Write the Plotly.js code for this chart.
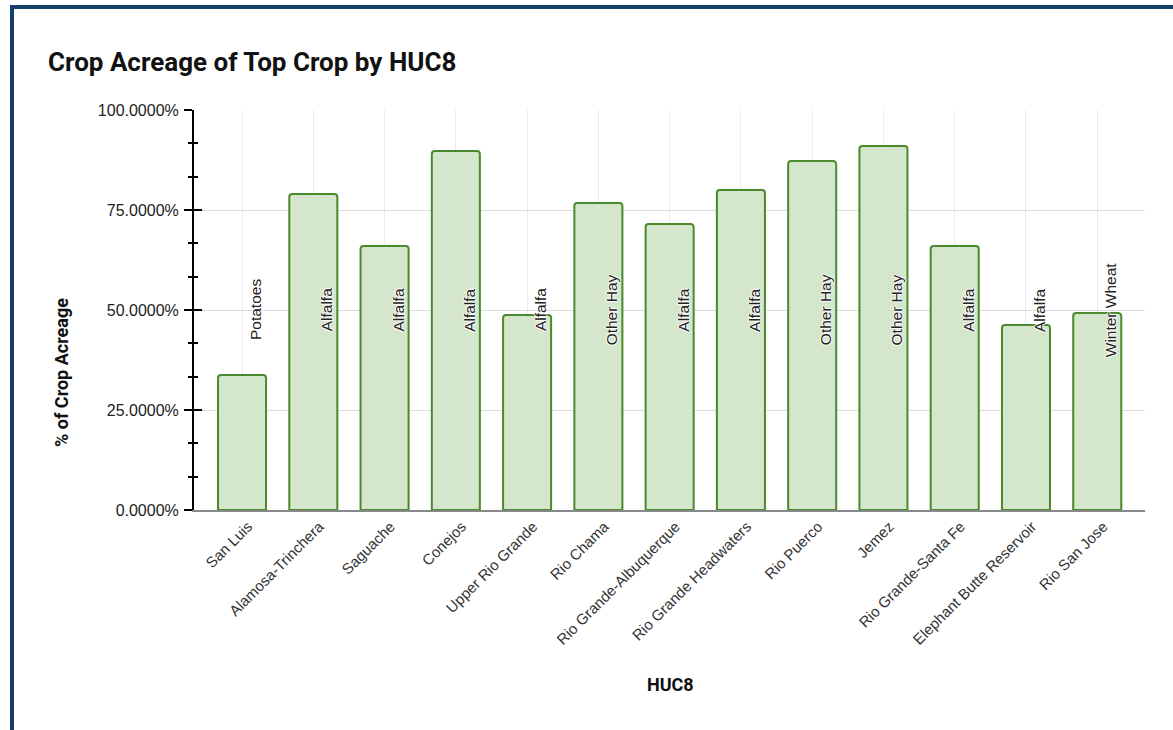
<!DOCTYPE html>
<html>
<head>
<meta charset="utf-8">
<script src="https://cdn.plot.ly/plotly-3.0.1.min.js"></script>
<style>
html,body{margin:0;padding:0;background:#fff;}
#wrap{position:relative;width:1173px;height:730px;overflow:hidden;}
#chart{position:absolute;left:0;top:0;width:1173px;height:730px;}
#frame{position:absolute;left:10px;top:5px;width:1300px;height:900px;border-left:4px solid #13406b;border-top:4px solid #13406b;pointer-events:none;}
</style>
</head>
<body>
<div id="wrap"><div id="chart"></div><div id="frame"></div></div>
<script>
const categories = ["San Luis","Alamosa-Trinchera","Saguache","Conejos","Upper Rio Grande","Rio Chama","Rio Grande-Albuquerque","Rio Grande Headwaters","Rio Puerco","Jemez","Rio Grande-Santa Fe","Elephant Butte Reservoir","Rio San Jose"];
const values = [33.75, 79.0, 66.0, 89.75, 48.75, 76.75, 71.5, 80.0, 87.25, 91.0, 66.0, 46.25, 49.25];
const topCrops = ["Potatoes","Alfalfa","Alfalfa","Alfalfa","Alfalfa","Other Hay","Alfalfa","Alfalfa","Other Hay","Other Hay","Alfalfa","Alfalfa","Winter Wheat"];
const yTicks = [0, 25, 50, 75, 100];
const yTickText = yTicks.map(v => v.toFixed(4) + '%');
const labelY = 50;

const titleFont = "Roboto, 'Noto Sans', Arial, sans-serif";
const bodyFont = "'Liberation Sans', Arial, Helvetica, sans-serif";
const W = 1173, H = 730, L = 194, R = 28, T = 110, B = 220;
const pw = W - L - R, ph = H - T - B;

const trace = {
  type: 'bar',
  x: categories,
  y: values,
  marker: {color: 'rgb(212,230,204)', line: {color: 'rgb(74,137,44)', width: 2}, cornerradius: 3},
  hoverinfo: 'x+y'
};

const halo = '1px 0 1px #fff, -1px 0 1px #fff, 0 1px 1px #fff, 0 -1px 1px #fff';
const annotations = categories.map((c, i) => ({
  x: c, y: labelY, xref: 'x', yref: 'y',
  text: topCrops[i], showarrow: false, textangle: -90,
  xanchor: 'center', yanchor: 'middle',
  xshift: 13, font: {family: bodyFont, size: 15.5, color: '#222', shadow: halo}
}));
annotations.push({
  xref: 'paper', yref: 'paper', x: (61 - L) / pw, y: (H - B - 373) / ph,
  xanchor: 'center', yanchor: 'middle',
  text: '<b>% of Crop Acreage</b>', showarrow: false, textangle: -90,
  font: {family: titleFont, size: 18, color: '#111'}
});
annotations.push({
  xref: 'paper', yref: 'paper', x: (670 - L) / pw, y: (H - B - 684) / ph,
  xanchor: 'center', yanchor: 'middle',
  text: '<b>HUC8</b>', showarrow: false,
  font: {family: titleFont, size: 18, color: '#111'}
});

const yCommon = {
  range: [0, 100], tickmode: 'array', tickvals: yTicks, fixedrange: true,
  tickcolor: '#000', tickwidth: 2, ticklen: 8
};

const layout = {
  width: W, height: H,
  margin: {l: L, r: R, t: T, b: B, pad: 0},
  paper_bgcolor: '#fff', plot_bgcolor: '#fff',
  showlegend: false,
  bargap: 0.326,
  title: {
    text: '<b>Crop Acreage of Top Crop by HUC8</b>',
    xref: 'container', yref: 'container', x: 48 / W, xanchor: 'left',
    y: 1 - 62 / H, yanchor: 'middle',
    font: {family: titleFont, size: 26, color: '#111'}
  },
  xaxis: {
    type: 'category', range: [-0.674, 12.67],
    showgrid: true, gridcolor: '#ebebeb', gridwidth: 1,
    showline: true, linecolor: '#888', linewidth: 2,
    ticks: '', tickangle: -45, ticklabelshift: 6,
    tickfont: {family: bodyFont, size: 15, color: '#333'},
    fixedrange: true, zeroline: false
  },
  yaxis: Object.assign({}, yCommon, {
    ticks: 'outside', ticktext: yTickText, ticklabelstandoff: 2,
    showgrid: true, gridcolor: '#dcdcdc', gridwidth: 1,
    showline: true, linecolor: '#000', linewidth: 2, zeroline: false,
    tickfont: {family: bodyFont, size: 16, color: '#222'},
    minor: {dtick: 100 / 12, ticks: 'outside', ticklen: 4, tickcolor: '#000', tickwidth: 2, showgrid: false}
  }),
  yaxis2: Object.assign({}, yCommon, {
    overlaying: 'y', side: 'left', anchor: 'x',
    ticks: 'inside', showticklabels: false, showgrid: false, showline: false, zeroline: false,
    minor: {dtick: 100 / 12, ticks: 'inside', ticklen: 4, tickcolor: '#000', tickwidth: 2, showgrid: false}
  }),
  shapes: [{
    type: 'line', xref: 'paper', yref: 'paper', x0: (185 - L) / pw, x1: 0, y0: 0, y1: 0,
    line: {color: '#888', width: 2}, layer: 'below'
  }],
  annotations: annotations
};

const dummy = {type: 'scatter', x: [categories[0]], y: [0], yaxis: 'y2', mode: 'markers', marker: {opacity: 0}, hoverinfo: 'skip'};

Plotly.newPlot('chart', [trace, dummy], layout, {displayModeBar: false, responsive: false});
</script>
</body>
</html>
